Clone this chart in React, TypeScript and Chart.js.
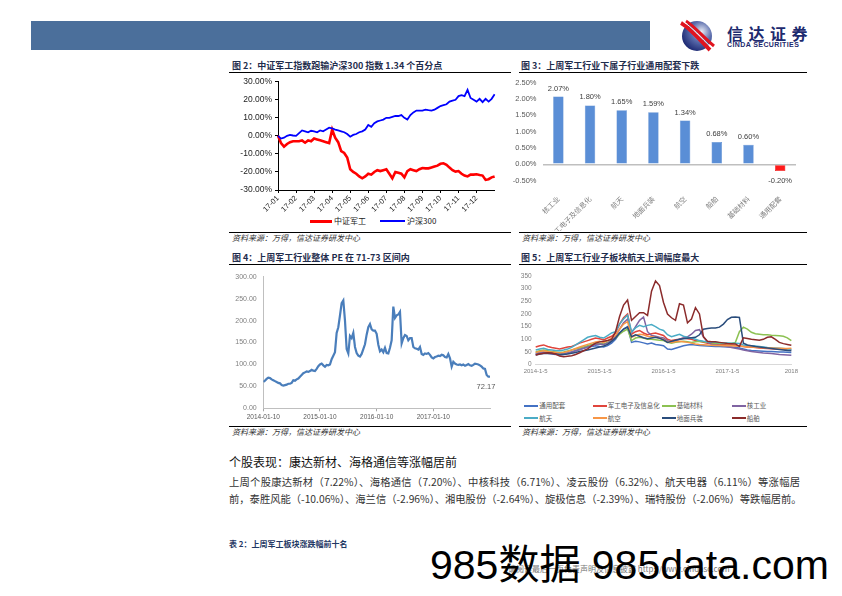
import React, { useEffect, useRef } from 'react';
import { Chart, registerables } from 'chart.js';

Chart.register(...registerables);

const LATIN = "'Liberation Sans', Arial, 'Noto Sans CJK SC', sans-serif";
const CJK = "'Noto Sans CJK SC', 'Liberation Sans', sans-serif";

// ---------- Figure 2: 中证军工 vs 沪深300 (2017, 6 samples per month) ----------
const fig2Months = ['17-01', '17-02', '17-03', '17-04', '17-05', '17-06', '17-07', '17-08', '17-09', '17-10', '17-11', '17-12'];
const fig2Names = ['中证军工', '沪深300'];
const fig2Colors = ['#ff0000', '#0000ff'];
const fig2Military = [
  0, -4, -6, -4.5, -3.5, -3, -3,
  -3, -2.5, -3.8, -2.5, -3, -1.5,
  -2, -2.5, -3, -3.5, -4, 3.5,
  -1, -3.5, -8.5, -9.5, -12, -18.5,
  -20, -21, -22.5, -23.5, -22.5, -21,
  -21.5, -20, -19, -19.5, -19, -18.5,
  -21, -23.5, -20, -20.5, -21, -23,
  -19.5, -18.5, -19, -19.5, -18.5, -17.8,
  -18, -18, -17.5, -17, -16.5, -15.5,
  -15.2, -16, -17.6, -19, -19.8, -19.5,
  -21, -22, -22.5, -21.5, -21.5, -21.3,
  -21.7, -22, -24.4, -24, -23, -22.5,
];
const fig2Hs300 = [
  0, -1.5, -1, 0, 0.5, 0.2, 0,
  1.5, 3, 2.5, 2, 2.8, 2.5,
  2, 3, 2.5, 3.5, 4.5, 4.2,
  3.5, 3, 2.5, 2, 1, -0.5,
  0.5, 1, 2, 2.5, 3.5, 6,
  5, 7, 8, 8.5, 9, 10,
  10, 10.5, 11, 11, 11.5, 10,
  9, 11.5, 13, 14, 14, 14,
  14.5, 14.2, 14, 14.5, 15.5, 16.5,
  17, 17.5, 19, 19.5, 20, 22,
  22.5, 22, 25.5, 21, 20, 19,
  20.5, 18.7, 20.5, 19, 20.5, 23,
];
const fig2SamplesPerMonth = 6;

// ---------- Figure 3: 子行业涨跌幅 ----------
const fig3Categories = ['核工业', '军工电子及信息化', '航天', '地面兵装', '航空', '船舶', '基础材料', '通用配套'];
const fig3Values = [2.07, 1.8, 1.65, 1.59, 1.34, 0.68, 0.6, -0.2];

// ---------- Figure 4: 军工行业整体 PE ----------
const fig4TickLabels = ['2014-01-10', '2015-01-10', '2016-01-10', '2017-01-10'];
const fig4SamplesPerYear = 34;
const fig4PE = [
  60, 63, 67, 70, 69, 66, 64, 62, 60, 58, 57, 53, 52, 53, 54, 56, 56, 58, 64, 63,
  66, 68, 72, 76, 80, 82, 84, 83, 85, 88, 86, 85, 90, 96, 100, 102, 98, 95, 99, 98,
  100, 112, 120, 128, 172, 185, 212, 240, 246, 200, 135, 125, 165, 160, 172, 140, 126, 120, 118, 124,
  135, 146, 168, 185, 192, 180, 177, 177, 170, 145, 130, 134, 128, 138, 126, 125, 138, 155, 232, 206,
  212, 214, 220, 148, 160, 167, 165, 155, 160, 160, 140, 137, 136, 134, 140, 124, 122, 125, 124, 126,
  122, 116, 114, 117, 118, 120, 119, 122, 121, 117, 116, 124, 114, 95, 106, 102, 100, 99, 100, 98,
  100, 97, 99, 101, 98, 97, 99, 102, 101, 100, 98, 95, 91, 90, 76, 72, 72.17,
];

// ---------- Figure 5: 子板块走势 (16 samples per year) ----------
const fig5TickLabels = ['2014-1-5', '2015-1-5', '2016-1-5', '2017-1-5', '2018'];
const fig5SamplesPerYear = 16;
const fig5Names = ['通用配套', '军工电子及信息化', '基础材料', '核工业', '航天', '航空', '地面兵装', '船舶'];
const fig5Colors = ['#4472c4', '#e0453c', '#8cc152', '#8064a2', '#4bacc6', '#f79646', '#2a4d7c', '#8b2b2b'];
const fig5General = [
  45, 48, 50, 47, 45, 43, 42, 44, 47, 50, 55, 60, 65, 70, 72, 75, 72,
  70, 75, 85,
  100, 125, 140, 150, 88, 92, 90, 86, 82, 85, 80, 78, 75,
  62, 60, 65, 70, 75, 78, 80, 78, 76, 75, 74, 73, 72, 72, 71, 70,
  70, 68, 66, 62, 58, 56, 55, 54, 53, 52, 52, 51, 50, 50, 49, 48,
];
const fig5Electronics = [
  70, 75, 78, 72, 68, 65, 62, 66, 70, 72, 78, 85, 90, 95, 100, 105, 102,
  98, 105, 112,
  125, 160, 185, 200, 120, 130, 135, 125, 118, 122, 125, 120, 115,
  100, 95, 98, 100, 105, 102, 100, 95, 92, 88, 85, 84, 82, 80, 80, 78,
  78, 76, 74, 72, 70, 70, 68, 66, 65, 64, 63, 62, 62, 61, 60, 60,
];
const fig5Materials = [
  50, 55, 58, 55, 52, 50, 48, 50, 54, 58, 62, 66, 70, 75, 80, 85, 85,
  82, 88, 95,
  105, 120, 132, 140, 95, 105, 108, 105, 100, 100, 98, 96, 95,
  88, 85, 88, 90, 92, 90, 88, 90, 92, 90, 88, 86, 85, 84, 84, 84,
  84, 88, 130, 148, 140, 128, 122, 120, 118, 118, 116, 115, 114, 112, 106, 95,
];
const fig5Nuclear = [
  42, 46, 48, 45, 42, 40, 38, 40, 45, 50, 55, 60, 65, 70, 75, 80, 82,
  80, 85, 95,
  110, 140, 165, 180, 125, 150, 175, 188, 130, 115, 112, 108, 105,
  95, 90, 95, 100, 105, 110, 120, 135, 138, 110, 90, 80, 78, 76, 75, 72,
  68, 65, 62, 58, 55, 52, 50, 48, 46, 45, 44, 42, 40, 39, 38, 37,
];
const fig5Aerospace = [
  58, 62, 65, 60, 58, 56, 55, 58, 62, 68, 78, 88, 98, 108, 112, 115, 108,
  105, 115, 125,
  130, 160, 180, 195, 130, 145, 155, 150, 155, 158, 150, 140, 135,
  118, 110, 115, 120, 112, 108, 105, 100, 95, 92, 90, 88, 88, 87, 86, 86,
  85, 85, 84, 78, 76, 75, 74, 72, 70, 68, 67, 66, 65, 64, 62, 60,
];
const fig5Aviation = [
  48, 52, 55, 52, 50, 48, 46, 48, 52, 58, 64, 70, 75, 80, 85, 90, 92,
  88, 95, 105,
  115, 140, 160, 170, 108, 115, 120, 118, 112, 110, 108, 105, 100,
  90, 88, 90, 92, 90, 88, 85, 82, 80, 79, 78, 77, 76, 76, 75, 75,
  75, 74, 74, 72, 70, 70, 69, 68, 67, 66, 66, 65, 65, 64, 64, 65,
];
const fig5Ordnance = [
  38, 42, 44, 45, 44, 42, 40, 40, 42, 45, 48, 52, 55, 58, 62, 66, 70,
  74, 80, 92,
  105, 125, 140, 148, 110, 118, 112, 106, 102, 105, 108, 104, 98,
  88, 92, 96, 100, 102, 104, 106, 108, 118, 140, 143, 145, 145, 148, 160, 178,
  187, 188, 186, 85, 78, 75, 72, 70, 68, 66, 64, 62, 60, 58, 56, 55,
];
const fig5Shipbuilding = [
  38, 42, 45, 47, 46, 42, 34, 31, 33, 35, 40, 47, 55, 62, 75, 85, 90,
  92, 95, 100, 130, 190, 235, 255, 175, 190, 205, 205, 194, 290, 330, 312, 245,
  200, 185, 175, 240, 235, 165, 180, 225, 200, 110, 92, 90, 90, 88, 86, 84,
  83, 82, 72, 106, 103, 100, 98, 96, 100, 108, 110, 100, 88, 83, 80, 77,
];
const fig5Series = [fig5General, fig5Electronics, fig5Materials, fig5Nuclear, fig5Aerospace, fig5Aviation, fig5Ordnance, fig5Shipbuilding];

const SOURCE = '资料来源：万得，信达证券研发中心';

const abs = (left: number, top: number, extra: React.CSSProperties = {}): React.CSSProperties => ({
  position: 'absolute',
  left,
  top,
  ...extra,
});

export default function App() {
  const c2 = useRef<HTMLCanvasElement>(null);
  const c3 = useRef<HTMLCanvasElement>(null);
  const c4 = useRef<HTMLCanvasElement>(null);
  const c5 = useRef<HTMLCanvasElement>(null);

  useEffect(() => {
    const charts: Chart[] = [];

    // ---- Figure 2 ----
    const fig2Labels = fig2Military.map((_, k) =>
      k % fig2SamplesPerMonth === 0 && k / fig2SamplesPerMonth < fig2Months.length ? fig2Months[k / fig2SamplesPerMonth] : ''
    );
    charts.push(
      new Chart(c2.current as HTMLCanvasElement, {
        type: 'line',
        data: {
          labels: fig2Labels,
          datasets: [
            { label: fig2Names[0], data: fig2Military, borderColor: fig2Colors[0], borderWidth: 2.6, pointRadius: 0, tension: 0, order: 2 },
            { label: fig2Names[1], data: fig2Hs300, borderColor: fig2Colors[1], borderWidth: 1.8, pointRadius: 0, tension: 0, order: 1 },
          ],
        },
        options: {
          animation: false,
          responsive: false,
          devicePixelRatio: 1,
          layout: { padding: { top: 9.7, right: 5, left: 0, bottom: 0 } },
          plugins: { legend: { display: false }, tooltip: { enabled: false } },
          scales: {
            x: {
              ticks: {
                autoSkip: false,
                minRotation: 45,
                maxRotation: 45,
                padding: 1,
                color: '#222',
                font: { size: 7.5, family: LATIN },
                callback: (_v: any, i: number) => fig2Labels[i],
              },
              grid: {
                drawOnChartArea: false,
                drawTicks: true,
                tickLength: 3,
                color: (ctx: any) => (ctx.tick && ctx.tick.label ? '#000' : 'rgba(0,0,0,0)'),
              },
              border: { display: true, color: '#000', width: 1 },
              afterFit: (s: any) => {
                s.height = 24;
              },
            },
            y: {
              min: -30,
              max: 30,
              ticks: {
                stepSize: 10,
                callback: (v: any) => Number(v).toFixed(2) + '%',
                color: '#222',
                font: { size: 8.5, family: LATIN },
                padding: 3,
              },
              grid: { drawOnChartArea: false, drawTicks: true, tickLength: 3, color: '#000' },
              border: { display: true, color: '#000', width: 1 },
              afterFit: (s: any) => {
                s.width = 50;
              },
            },
          },
        },
      } as any)
    );

    // ---- Figure 3 ----
    const barLabelPlugin = {
      id: 'fig3BarLabels',
      afterDatasetsDraw(chart: any) {
        const ctx = chart.ctx;
        const meta = chart.getDatasetMeta(0);
        ctx.save();
        ctx.font = `7.5px ${LATIN}`;
        ctx.fillStyle = '#404040';
        ctx.textAlign = 'center';
        ctx.textBaseline = 'middle';
        meta.data.forEach((el: any, i: number) => {
          const v = fig3Values[i];
          const y = v >= 0 ? el.y - 8 : el.y + 10;
          ctx.fillText(v.toFixed(2) + '%', el.x, y);
        });
        ctx.restore();
      },
    };
    charts.push(
      new Chart(c3.current as HTMLCanvasElement, {
        type: 'bar',
        data: {
          labels: fig3Categories,
          datasets: [
            {
              data: fig3Values,
              backgroundColor: fig3Values.map((v) => (v >= 0 ? '#5a8ed6' : '#ff1a1a')),
              borderColor: fig3Values.map((v) => (v >= 0 ? '#4f83cc' : '#e00000')),
              borderWidth: 0.5,
              barPercentage: 0.33,
              categoryPercentage: 1,
            },
          ],
        },
        options: {
          animation: false,
          responsive: false,
          devicePixelRatio: 1,
          layout: { padding: { top: 6.3, right: 6, left: 0, bottom: 0 } },
          plugins: { legend: { display: false }, tooltip: { enabled: false } },
          scales: {
            x: {
              ticks: {
                autoSkip: false,
                minRotation: 45,
                maxRotation: 45,
                padding: 6,
                color: '#7f7f7f',
                font: { size: 7, family: CJK },
              },
              grid: { display: false },
              border: { display: false },
              afterFit: (s: any) => {
                s.height = 50.3;
              },
            },
            y: {
              min: -0.5,
              max: 2.5,
              ticks: {
                stepSize: 0.5,
                callback: (v: any) => Number(v).toFixed(2) + '%',
                color: '#595959',
                font: { size: 7.5, family: LATIN },
                padding: 6,
              },
              grid: {
                drawTicks: false,
                color: (ctx: any) => (ctx.tick && Math.abs(ctx.tick.value) < 1e-9 ? '#bfbfbf' : 'rgba(0,0,0,0)'),
                lineWidth: (ctx: any) => (ctx.tick && Math.abs(ctx.tick.value) < 1e-9 ? 1.6 : 0),
              },
              border: { display: false },
              afterFit: (s: any) => {
                s.width = 32.5;
              },
            },
          },
        },
        plugins: [barLabelPlugin],
      } as any)
    );

    // ---- Figure 4 ----
    const lastLabelPlugin = {
      id: 'fig4LastLabel',
      afterDatasetsDraw(chart: any) {
        const ctx = chart.ctx;
        const pts = chart.getDatasetMeta(0).data;
        const last = pts[pts.length - 1];
        ctx.save();
        ctx.font = `7.5px ${LATIN}`;
        ctx.fillStyle = '#595959';
        ctx.textAlign = 'center';
        ctx.textBaseline = 'middle';
        ctx.fillText(fig4PE[fig4PE.length - 1].toFixed(2), last.x - 4, last.y + 10);
        ctx.restore();
      },
    };
    charts.push(
      new Chart(c4.current as HTMLCanvasElement, {
        type: 'line',
        data: {
          datasets: [
            {
              data: fig4PE.map((v, i) => ({ x: i / fig4SamplesPerYear, y: v })),
              borderColor: '#4a7ebb',
              borderWidth: 2.2,
              pointRadius: 0,
              tension: 0,
            },
          ],
        },
        options: {
          animation: false,
          responsive: false,
          devicePixelRatio: 1,
          layout: { padding: { top: 6.7, right: 6, left: 0, bottom: 0 } },
          plugins: { legend: { display: false }, tooltip: { enabled: false } },
          scales: {
            x: {
              type: 'linear',
              min: 0,
              max: 4,
              ticks: {
                stepSize: 1,
                callback: (v: any) => fig4TickLabels[v] ?? '',
                color: '#595959',
                font: { size: 6.5, family: LATIN },
                padding: 2,
                maxRotation: 0,
              },
              grid: {
                drawOnChartArea: false,
                drawTicks: true,
                tickLength: 3,
                color: (ctx: any) => (ctx.tick && ctx.tick.value < 4 ? '#a6a6a6' : 'rgba(0,0,0,0)'),
              },
              border: { display: true, color: '#bfbfbf', width: 1 },
              afterFit: (s: any) => {
                s.height = 15.7;
              },
            },
            y: {
              min: 0,
              max: 300,
              ticks: {
                stepSize: 50,
                callback: (v: any) => Number(v).toFixed(2),
                color: '#7f7f7f',
                font: { size: 7, family: LATIN },
                padding: 6.6,
              },
              grid: { drawOnChartArea: false, drawTicks: false },
              border: { display: true, color: '#bfbfbf', width: 1 },
              afterFit: (s: any) => {
                s.width = 38.3;
              },
            },
          },
        },
        plugins: [lastLabelPlugin],
      } as any)
    );

    // ---- Figure 5 ----
    const fig5Labels = fig5General.map((_, k) => (k % fig5SamplesPerYear === 0 ? fig5TickLabels[k / fig5SamplesPerYear] : ''));
    charts.push(
      new Chart(c5.current as HTMLCanvasElement, {
        type: 'line',
        data: {
          labels: fig5Labels,
          datasets: fig5Series.map((s, i) => ({
            label: fig5Names[i],
            data: s,
            borderColor: fig5Colors[i],
            borderWidth: 1.5,
            pointRadius: 0,
            tension: 0,
            order: fig5Series.length - i,
          })),
        },
        options: {
          animation: false,
          responsive: false,
          devicePixelRatio: 1,
          layout: { padding: { top: 7, right: 8, left: 0, bottom: 0 } },
          plugins: { legend: { display: false }, tooltip: { enabled: false } },
          scales: {
            x: {
              ticks: {
                autoSkip: false,
                maxRotation: 0,
                minRotation: 0,
                padding: 3,
                color: '#7f7f7f',
                font: { size: 6, family: LATIN },
                callback: (_v: any, i: number) => fig5Labels[i],
              },
              grid: { drawOnChartArea: false, drawTicks: false },
              border: { display: true, color: '#d9d9d9', width: 1 },
              afterFit: (s: any) => {
                s.height = 14.3;
              },
            },
            y: {
              min: 0,
              max: 350,
              ticks: {
                stepSize: 50,
                color: '#7f7f7f',
                font: { size: 6.5, family: LATIN },
                padding: 4,
              },
              grid: { display: false, drawTicks: false },
              border: { display: false },
              afterFit: (s: any) => {
                s.width = 20.7;
              },
            },
          },
        },
      } as any)
    );

    return () => charts.forEach((c) => c.destroy());
  }, []);

  const titleStyle: React.CSSProperties = {
    fontFamily: CJK,
    fontSize: 9,
    fontWeight: 700,
    color: '#1f2d4d',
    whiteSpace: 'nowrap',
    lineHeight: '12px',
  };
  const sourceStyle: React.CSSProperties = {
    fontFamily: CJK,
    fontSize: 8,
    fontStyle: 'italic',
    color: '#333',
    whiteSpace: 'nowrap',
    lineHeight: '10px',
  };
  const hline = (left: number, top: number, width: number, color = '#000'): React.CSSProperties =>
    abs(left, top, { width, height: 1, background: color });

  return (
    <div
      style={{
        position: 'absolute',
        left: 0,
        top: 0,
        width: 842,
        height: 596,
        background: '#fff',
        overflow: 'hidden',
        fontFamily: CJK,
      }}
    >
      {/* Header */}
      <div style={abs(31, 21, { width: 619, height: 29, background: '#4b6f9b' })} />
      <svg style={abs(677, 19, { width: 40, height: 34 })} viewBox="0 0 40 34">
        <defs>
          <radialGradient id="lg" cx="0.65" cy="0.35" r="0.75">
            <stop offset="0" stopColor="#e9ecf5" />
            <stop offset="0.45" stopColor="#5d6fae" />
            <stop offset="1" stopColor="#15206b" />
          </radialGradient>
        </defs>
        <circle cx="20" cy="17" r="15" fill="url(#lg)" />
        <path d="M4 4 C 12 8, 22 20, 33 31" stroke="#e0141e" strokeWidth="4" fill="none" />
        <path d="M9 2 C 17 7, 26 18, 37 27" stroke="#e0141e" strokeWidth="3" fill="none" />
        <path d="M6.5 3 C 14.5 7.5, 24 19, 35 29" stroke="#ffffff" strokeWidth="1" fill="none" />
      </svg>
      <div
        style={abs(727, 24, {
          fontFamily: CJK,
          fontSize: 16,
          fontWeight: 700,
          color: '#1d2a6e',
          letterSpacing: 5.5,
          lineHeight: '18px',
          whiteSpace: 'nowrap',
        })}
      >
        信达证券
      </div>
      <div
        style={abs(727, 41, {
          fontFamily: LATIN,
          fontSize: 7,
          fontWeight: 700,
          color: '#1d2a6e',
          letterSpacing: 0.4,
          lineHeight: '8px',
          whiteSpace: 'nowrap',
        })}
      >
        CINDA SECURITIES
      </div>

      {/* Figure 2 */}
      <div style={abs(232, 60, titleStyle)}>图 2：中证军工指数跑输沪深300 指数 1.34 个百分点</div>
      <div style={hline(229, 72, 282)} />
      <canvas ref={c2} width={274} height={142} style={abs(228, 72, { width: 274, height: 142 })} />
      <div style={abs(310, 219.5, { width: 22, height: 3, background: fig2Colors[0] })} />
      <div style={abs(334, 215.5, { fontFamily: CJK, fontSize: 8, color: '#222', lineHeight: '10px', whiteSpace: 'nowrap' })}>
        {fig2Names[0]}
      </div>
      <div style={abs(380, 220, { width: 25, height: 2, background: fig2Colors[1] })} />
      <div style={abs(407, 215.5, { fontFamily: CJK, fontSize: 8, color: '#222', lineHeight: '10px', whiteSpace: 'nowrap' })}>
        {fig2Names[1]}
      </div>
      <div style={hline(229, 232, 282)} />
      <div style={abs(232, 233, sourceStyle)}>{SOURCE}</div>

      {/* Figure 3 */}
      <div style={abs(521, 60, titleStyle)}>图 3：上周军工行业下属子行业通用配套下跌</div>
      <div style={hline(519, 72, 288)} />
      <canvas ref={c3} width={292} height={159} style={abs(510, 72, { width: 292, height: 159 })} />
      <div style={hline(519, 232, 288)} />
      <div style={abs(522, 233, sourceStyle)}>{SOURCE}</div>

      {/* Figure 4 */}
      <div style={abs(232, 252, titleStyle)}>图 4：上周军工行业整体 PE 在 71-73 区间内</div>
      <div style={hline(229, 264, 282)} />
      <canvas ref={c4} width={271} height={158} style={abs(225, 266, { width: 271, height: 158 })} />
      <div style={hline(229, 426, 282)} />
      <div style={abs(232, 427, sourceStyle)}>{SOURCE}</div>

      {/* Figure 5 */}
      <div style={abs(521, 252, titleStyle)}>图 5：上周军工行业子板块航天上调幅度最大</div>
      <div style={hline(519, 264, 288)} />
      <canvas ref={c5} width={286} height={111} style={abs(515, 268, { width: 286, height: 111 })} />
      {fig5Names.map((name, i) => {
        const colX = [524.3, 592.7, 661.7, 731.7][i % 4];
        const rowY = [405.7, 418.3][Math.floor(i / 4)];
        return (
          <React.Fragment key={name}>
            <div style={abs(colX, rowY - 1, { width: 14, height: 2, background: fig5Colors[i] })} />
            <div
              style={abs(colX + 15, rowY - 4.5, {
                fontFamily: CJK,
                fontSize: 6.5,
                color: '#595959',
                lineHeight: '9px',
                whiteSpace: 'nowrap',
              })}
            >
              {name}
            </div>
          </React.Fragment>
        );
      })}
      <div style={hline(519, 426, 288)} />
      <div style={abs(522, 427, sourceStyle)}>{SOURCE}</div>

      {/* Text section */}
      <div style={abs(229, 454, { fontFamily: CJK, fontSize: 12, color: '#111', lineHeight: '16px', whiteSpace: 'nowrap' })}>
        个股表现：康达新材、海格通信等涨幅居前
      </div>
      <div
        style={abs(229, 475, {
          width: 571,
          fontFamily: CJK,
          fontSize: 10.3,
          color: '#333',
          lineHeight: '14px',
          whiteSpace: 'nowrap',
          textAlign: 'justify',
          textAlignLast: 'justify',
        } as React.CSSProperties)}
      >
        上周个股康达新材（7.22%）、海格通信（7.20%）、中核科技（6.71%）、凌云股份（6.32%）、航天电器（6.11%）等涨幅居
      </div>
      <div
        style={abs(229, 492, {
          width: 571,
          fontFamily: CJK,
          fontSize: 10.3,
          color: '#333',
          lineHeight: '14px',
          whiteSpace: 'nowrap',
          textAlign: 'justify',
          textAlignLast: 'justify',
        } as React.CSSProperties)}
      >
        前，泰胜风能（-10.06%）、海兰信（-2.96%）、湘电股份（-2.64%）、旋极信息（-2.39%）、瑞特股份（-2.06%）等跌幅居前。
      </div>
      <div style={abs(229, 539, { fontFamily: CJK, fontSize: 8, fontWeight: 700, color: '#1f3864', lineHeight: '10px', whiteSpace: 'nowrap' })}>
        表 2：上周军工板块涨跌幅前十名
      </div>

      {/* Footer + watermark */}
      <div style={abs(508, 564, { fontFamily: CJK, fontSize: 8, color: '#777', lineHeight: '10px', whiteSpace: 'nowrap' })}>
        请阅读最后一页免责声明及信息披露 http://www.cindasc.com
      </div>
      <div
        style={abs(430, 545, {
          fontFamily: "'Liberation Sans', 'Noto Sans CJK SC', sans-serif",
          fontSize: 41,
          color: '#000',
          lineHeight: '41px',
          whiteSpace: 'nowrap',
        })}
      >
        985数据 985data.com
      </div>
    </div>
  );
}
